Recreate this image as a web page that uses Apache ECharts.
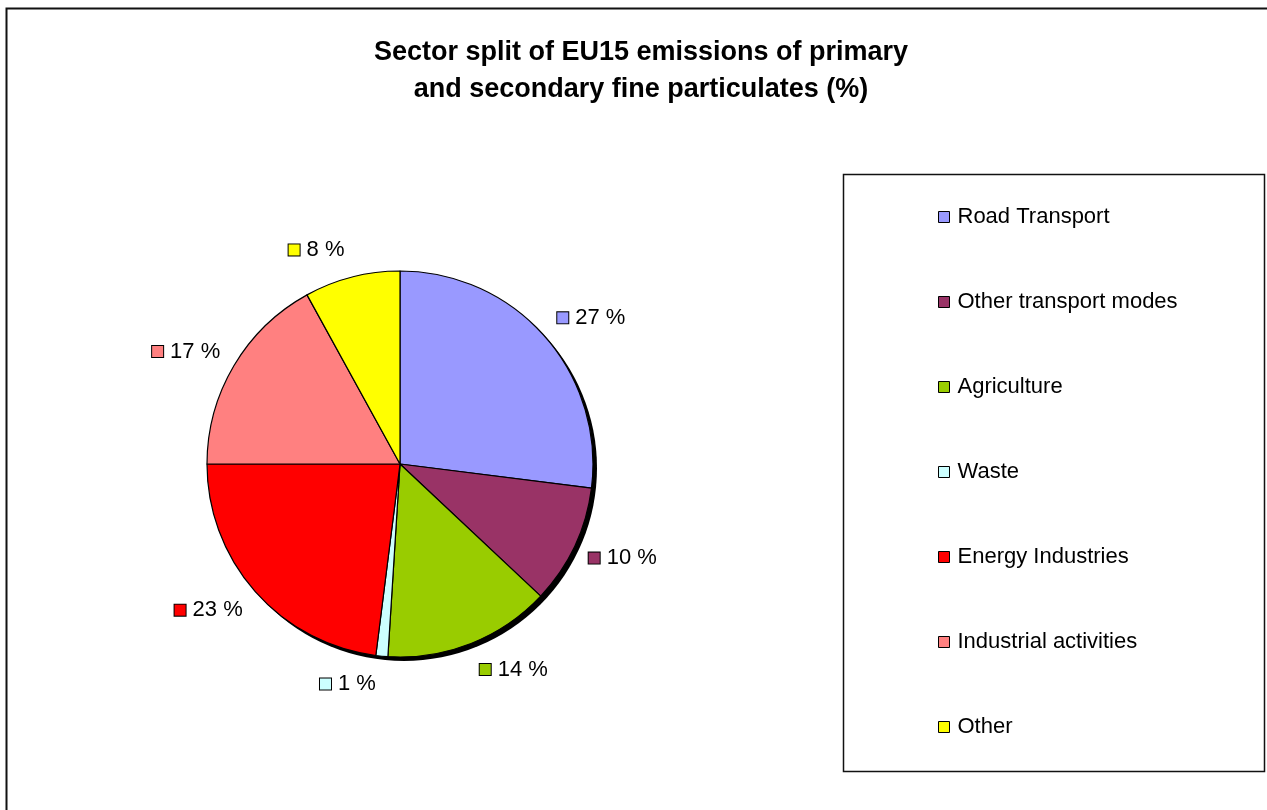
<!DOCTYPE html>
<html>
<head>
<meta charset="utf-8">
<script src="https://cdn.jsdelivr.net/npm/echarts@6/dist/echarts.min.js"></script>
<style>
html,body{margin:0;padding:0;background:#fff;}
#chart{width:1267px;height:810px;}
</style>
</head>
<body>
<div id="chart"></div>
<script>
const categories = ['Road Transport','Other transport modes','Agriculture','Waste','Energy Industries','Industrial activities','Other'];
const values = [27, 10, 14, 1, 23, 17, 8];
const colors = ['#9999FF','#993366','#99CC00','#CCFFFF','#FF0000','#FF8080','#FFFF00'];
const titleText = 'Sector split of EU15 emissions of primary\nand secondary fine particulates (%)';

const FONT = '"Liberation Sans", Arial, sans-serif';
const rich = { v: { fontSize: 22, fontFamily: FONT, color: '#000', padding: [0,0,0,7] } };
colors.forEach((c, i) => {
  rich['m' + i] = { width: 11, height: 11, backgroundColor: c, borderColor: '#000', borderWidth: 1 };
});

// mid-angle of each slice, used to push labels outward vertically
const total = values.reduce((a, b) => a + b, 0);
const midSin = [];
let acc = 0;
values.forEach(v => {
  const mid = (90 - (acc + v / 2) / total * 360) * Math.PI / 180;
  midSin.push(-Math.sin(mid));
  acc += v;
});

const chart = echarts.init(document.getElementById('chart'), null, { renderer: 'canvas' });
const center = [400, 464];
const R = 193;
chart.setOption({
  animation: false,
  backgroundColor: '#fff',
  title: {
    text: titleText,
    left: 636, top: 29, textAlign: 'center',
    textStyle: { fontFamily: FONT, fontWeight: 'bold', fontSize: 27, lineHeight: 37, color: '#000' }
  },
  graphic: [
    { type: 'rect', shape: { x: 6.5, y: 8.5, width: 1300, height: 900 }, style: { fill: 'none', stroke: '#111', lineWidth: 2 }, silent: true, z: 0 },
    { type: 'rect', shape: { x: 843.5, y: 174.5, width: 421, height: 597 }, style: { fill: 'none', stroke: '#111', lineWidth: 1.5 }, silent: true, z: 0 }
  ],
  legend: {
    orient: 'vertical',
    left: 938, top: 206, padding: 0,
    itemWidth: 11, itemHeight: 11, itemGap: 63,
    icon: 'rect',
    itemStyle: { borderColor: '#000', borderWidth: 1 },
    textStyle: { fontFamily: FONT, fontSize: 22, lineHeight: 22, color: '#000', padding: [0,0,0,3] },
    data: categories
  },
  series: [
    {
      type: 'pie', silent: true, center: [center[0] + 4, center[1] + 4], radius: R,
      label: { show: false }, labelLine: { show: false },
      itemStyle: { color: '#000', borderWidth: 0 },
      data: [{ value: 1, name: '' }], z: 1
    },
    {
      type: 'pie', center: center, radius: R,
      startAngle: 90, clockwise: true, avoidLabelOverlap: false,
      itemStyle: { borderColor: '#000', borderWidth: 1.2 },
      label: {
        show: true, position: 'outside',
        formatter: p => '{m' + p.dataIndex + '|}{v|' + p.value + ' %}',
        rich: rich
      },
      labelLine: { show: false, length: 10, length2: 0 },
      labelLayout: p => ({ dy: 18 * midSin[p.dataIndex] }),
      data: categories.map((n, i) => ({ name: n, value: values[i], itemStyle: { color: colors[i] } })),
      z: 2
    }
  ]
});
</script>
</body>
</html>
